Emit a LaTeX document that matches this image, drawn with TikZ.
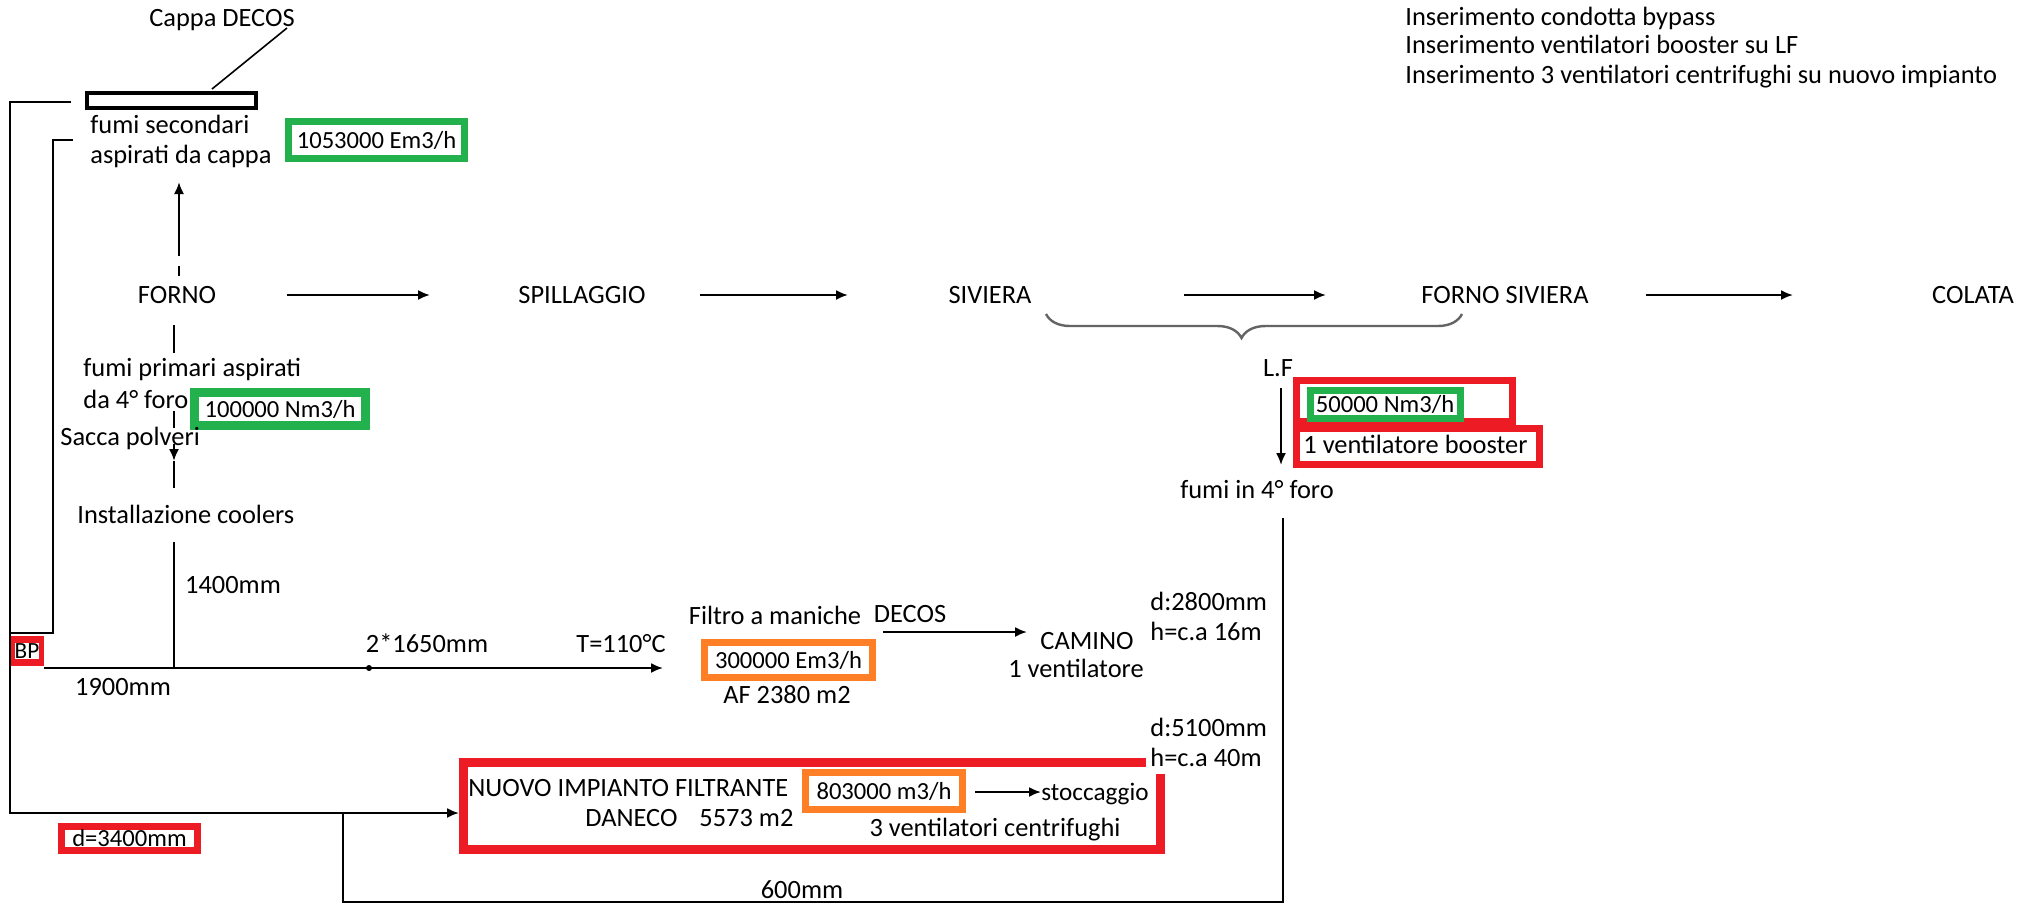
\documentclass[tikz,border=0pt]{standalone}
\usepackage{fontspec}
\setmainfont{Carlito}
\usetikzlibrary{arrows.meta,decorations.pathreplacing,calc}
\definecolor{pred}{RGB}{237,28,36}
\definecolor{pgreen}{RGB}{34,177,76}
\definecolor{porange}{RGB}{255,127,39}
\definecolor{bracegray}{RGB}{100,100,100}

\begin{document}
\begin{tikzpicture}[x=0.5pt,y=-0.5pt,
  lbl/.style={font=\fontsize{13.2}{15}\selectfont, inner sep=0pt, text height=8.8pt, text depth=0.5pt, text=black},
  lblw/.style={lbl, anchor=west},
  wire/.style={line width=1pt, black},
  flow/.style={wire, -{Latex[length=6pt,width=5pt]}},
  tagbox/.style={lbl, font=\fontsize{12.3}{14}\selectfont, draw=#1, line width=3.5pt, fill=white},
  hoodbox/.style={draw, line width=2pt, inner sep=0pt}
]
\useasboundingbox[fill=white] (0,0) rectangle (2029,907);

% ---- notes on the modifications
\node[lblw] (n1) at (1405,17) {Inserimento condotta bypass};
\node[lblw] (n2) at (1405,45) {Inserimento ventilatori booster su LF};
\node[lblw] (n3) at (1405,75) {Inserimento 3 ventilatori centrifughi su nuovo impianto};

% ---- hood
\node[lbl] (cappa) at (222,18) {Cappa DECOS};
\node[hoodbox, minimum width=84.5pt, minimum height=7.5pt] (hood) at (171.5,100.5) {};
\coordinate (cappaTag) at (287,28);
\coordinate (hoodTag) at (212,89);
\draw[line width=0.8pt] (cappaTag) -- (hoodTag);

\node[lblw] (sec1) at (90,125) {fumi secondari};
\node[lblw] (sec2) at (90,155) {aspirati da cappa};
\node[tagbox=pgreen, minimum width=88pt, minimum height=18.5pt] (qsec) at (376.5,140) {1053000 Em3/h};

% ---- main process line
\node[lbl] (forno) at (177,295) {FORNO};
\node[lbl] (spill) at (582,295) {SPILLAGGIO};
\node[lbl] (siv) at (990,295) {SIVIERA};
\node[lbl] (fsiv) at (1505,295) {FORNO SIVIERA};
\node[lbl] (colata) at (1973,295) {COLATA};
\coordinate (a1s) at (287,295); \coordinate (a1e) at (430,295);
\coordinate (a2s) at (700,295); \coordinate (a2e) at (848,295);
\coordinate (a3s) at (1184,295); \coordinate (a3e) at (1326,295);
\coordinate (a4s) at (1646,295); \coordinate (a4e) at (1793,295);
\draw[flow] (a1s) -- (a1e);
\draw[flow] (a2s) -- (a2e);
\draw[flow] (a3s) -- (a3e);
\draw[flow] (a4s) -- (a4e);

% brace grouping the ladle furnace
\coordinate (brL) at (1046,314); \coordinate (brR) at (1462,314);
\draw[bracegray, line width=1.2pt, decorate, decoration={brace, mirror, amplitude=12pt, aspect=0.47}] (brL) -- (brR);

% ---- secondary fumes from the furnace up to the hood
\coordinate (upS) at (179,256); \coordinate (upE) at (179,182);
\coordinate (dashA) at (179,266); \coordinate (dashB) at (179,276);
\draw[flow] (upS) -- (upE);
\draw[wire] (dashA) -- (dashB);

% ---- primary fumes down from the furnace
\coordinate (p1) at (174,325); \coordinate (p2) at (174,353);
\draw[wire] (p1) -- (p2);
\node[lblw] (prim1) at (83,368) {fumi primari aspirati};
\node[lblw] (prim2) at (83,400) {da 4° foro};
\node[tagbox=pgreen, line width=4.5pt, minimum width=85.5pt, minimum height=16.5pt] (qprim) at (280,409) {100000 Nm3/h};
\coordinate (p3) at (174,411); \coordinate (p4) at (174,428);
\draw[wire] (p3) -- (p4);
\node[lblw] (sacca) at (60,437) {Sacca polveri};
\coordinate (p5) at (174,444); \coordinate (p6) at (174,461); \coordinate (p7) at (174,488);
\draw[flow] (p5) -- (p6);
\draw[wire] (p6) -- (p7);
\node[lblw] (cool) at (77,515) {Installazione coolers};
\coordinate (p8) at (174,542); \coordinate (jn) at (174,668);
\draw[wire] (p8) -- (jn);

% ---- left collectors and bypass
\coordinate (o1) at (71,102); \coordinate (o2) at (10,102);
\coordinate (o3) at (10,813); \coordinate (o4) at (459,813);
\coordinate (i1) at (73,140); \coordinate (i2) at (53,140);
\coordinate (i3) at (53,633); \coordinate (i4) at (10,633);
\draw[wire] (i1) -- (i2) -- (i3) -- (i4);
\node[fill=pred, inner sep=0pt, minimum width=17pt, minimum height=15pt] (bp) at (27,651) {};
\node[lbl, font=\fontsize{11.6}{13}\selectfont, text height=7.9pt, fill=white, inner sep=0pt] (bpText) at (bp.center) {BP};

% ---- existing DECOS bag filter line
\coordinate (m1) at (44,668); \coordinate (m2) at (663,668);
\draw[flow] (m1) -- (m2);
\fill (369,668) circle (3);
\node[lbl] (d1400) at (233,585) {1400mm};
\node[lbl] (d1900) at (123,687) {1900mm};
\node[lbl] (d1650) at (427,644) {2*1650mm};
\node[lbl] (temp) at (621,644) {T=110°C};

\node[lbl] (filtro) at (775,616) {Filtro a maniche};
\node[lbl] (decos) at (910,614) {DECOS};
\node[tagbox=porange, minimum width=84pt, minimum height=17.5pt] (qfil) at (788.5,660) {300000 Em3/h};
\node[lbl] (af) at (787,695) {AF 2380 m2};
\coordinate (c1) at (883,632); \coordinate (c2) at (1027,632);
\draw[flow] (c1) -- (c2);
\node[lbl] (camino) at (1087,641) {CAMINO};
\node[lbl] (vent1) at (1076,669) {1 ventilatore};
\node[lblw] (d2800) at (1150,602) {d:2800mm};
\node[lblw] (h16) at (1150,632) {h=c.a 16m};
\node[lblw] (d5100) at (1150,728) {d:5100mm};
\node[lblw] (h40) at (1150,758) {h=c.a 40m};

% ---- new filter plant
\draw[pred, line width=4.5pt] (1146,762) -- (463,762) -- (463,849) -- (1160,849) -- (1160,774);
\draw[flow] (o1) -- (o2) -- (o3) -- (o4);
\node[lblw] (nuovo) at (468,788) {NUOVO IMPIANTO FILTRANTE};
\node[lblw] (daneco) at (585,818) {DANECO};
\node[lblw] (area) at (699,818) {5573 m2};
\node[tagbox=porange, minimum width=78.5pt, minimum height=18.5pt] (qnew) at (884,791) {803000 m3/h};
\coordinate (s1) at (975,792); \coordinate (s2) at (1041,792);
\draw[flow] (s1) -- (s2);
\node[lblw, font=\fontsize{12.6}{14}\selectfont] (stock) at (1041,792) {stoccaggio};
\node[lbl] (vent3) at (995,828) {3 ventilatori centrifughi};
\node[tagbox=pred, minimum width=68pt, minimum height=12pt] (d3400) at (129.5,838.5) {d=3400mm};

% ---- ladle furnace fumes return line
\node[lbl] (lf) at (1278,368) {L.F};
\coordinate (lf1) at (1281,388); \coordinate (lf2) at (1281,465);
\draw[flow] (lf1) -- (lf2);
\node[lbl] (fumi4) at (1257,490) {fumi in 4° foro};
\node[tagbox=pred, minimum width=108pt, minimum height=20.5pt] (rb1) at (1404.5,401) {};
\node[tagbox=pred, minimum width=121.5pt, minimum height=18pt] (rb2) at (1418,446.5) {};
\node[tagbox=pgreen, minimum width=75pt, minimum height=14pt] (qlf) at (1385,404.5) {50000 Nm3/h};
\node[lblw] (boost) at (1303,445) {1 ventilatore booster};

\coordinate (r1) at (343,813); \coordinate (r2) at (343,902);
\coordinate (r3) at (1283,902); \coordinate (r4) at (1283,518);
\draw[wire] (r1) -- (r2) -- (r3) -- (r4);
\node[lbl] (d600) at (802,890) {600mm};
\end{tikzpicture}
\end{document}
